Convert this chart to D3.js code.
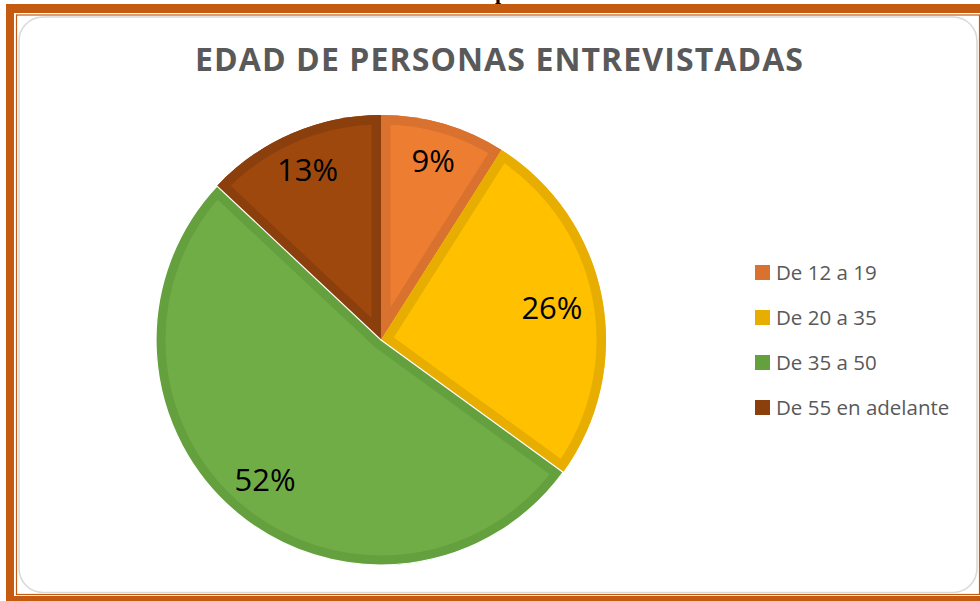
<!DOCTYPE html>
<html>
<head>
<meta charset="utf-8">
<script src="https://cdn.jsdelivr.net/npm/d3@7"></script>
<style>
  html, body { margin: 0; padding: 0; background: #fff; }
  svg { display: block; }
</style>
</head>
<body>
<svg id="chart" width="980" height="601"></svg>
<script>
// ---- data ----
const title = "EDAD DE PERSONAS ENTREVISTADAS";
const categories = ["De 12 a 19", "De 20 a 35", "De 35 a 50", "De 55 en adelante"];
const values = [9, 26, 52, 13];
const labels = ["9%", "26%", "52%", "13%"];
const fillColors = ["#ED7D31", "#FFC000", "#70AD47", "#9E480E"];
const edgeColors = ["#D9712F", "#E7AD00", "#65A03F", "#8B3F0D"];

// ---- layout constants (best-fit label distance from centre) ----
const labelRadii = [187, 174, 182, 185];

const svg = d3.select("#chart");
const W = 980, H = 601;

// ---- page frame ----
svg.append("rect").attr("x", 0).attr("y", 0).attr("width", W).attr("height", H).attr("fill", "#fff");
// fragment of the text above the frame (descender)
svg.append("text").attr("x", 501).attr("y", -1)
  .attr("text-anchor", "middle")
  .style("font-family", "'Liberation Serif', serif").style("font-weight", "bold").style("font-size", "22px")
  .attr("fill", "#000").text("p");
// thick orange border
svg.append("path")
  .attr("d", "M6,4H996V612H6Z M14,13V596H981V13Z")
  .attr("fill", "#C55A11").attr("fill-rule", "evenodd");
// thin orange line
svg.append("rect").attr("x", 16.5).attr("y", 15).attr("width", 963).attr("height", 579.5)
  .attr("fill", "none").attr("stroke", "#C55A11").attr("stroke-width", 1.2);
// chart card
svg.append("rect").attr("x", 19).attr("y", 17).attr("width", 958).attr("height", 575.5)
  .attr("rx", 24).attr("ry", 24)
  .attr("fill", "#fff").attr("stroke", "#D9D9D9").attr("stroke-width", 1.6);

// ---- title ----
const t = svg.append("text")
  .attr("x", 499).attr("y", 71)
  .attr("text-anchor", "middle")
  .attr("fill", "#595959")
  .style("font-family", "'Open Sans', sans-serif")
  .style("font-weight", "bold")
  .style("font-size", "32px")
  .text(title);
{
  const target = 608;
  const len = t.node().getComputedTextLength();
  const ls = (target - len) / (title.length - 1);
  t.style("letter-spacing", ls + "px").attr("x", 499 + ls / 2);
}

// ---- pie ----
const cx = 381, cy = 340, R = 225;
const pie = d3.pie().sort(null).value(d => d)(values);
const arc = d3.arc().innerRadius(0).outerRadius(R);

const g = svg.append("g").attr("transform", `translate(${cx},${cy})`);
const defs = svg.append("defs");
pie.forEach((p, i) => {
  defs.append("clipPath").attr("id", "clip" + i).append("path").attr("d", arc(p));
});

const slices = g.selectAll("g.slice").data(pie).enter().append("g").attr("class", "slice");
slices.append("path")
  .attr("d", d => arc(d))
  .attr("fill", (d, i) => fillColors[i]);
slices.append("path")
  .attr("d", d => arc(d))
  .attr("fill", "none")
  .attr("stroke", (d, i) => edgeColors[i])
  .attr("stroke-width", 19)
  .attr("stroke-linejoin", "miter")
  .attr("clip-path", (d, i) => `url(#clip${i})`);
g.append("path")
  .attr("d", arc(pie[2]))
  .attr("fill", "none").attr("stroke", "#fff").attr("stroke-width", 1.2);

// labels
g.selectAll("text.lbl").data(pie).enter().append("text")
  .attr("class", "lbl")
  .attr("transform", (d, i) => {
    const la = d3.arc().innerRadius(labelRadii[i]).outerRadius(labelRadii[i]);
    return `translate(${la.centroid(d)})`;
  })
  .attr("text-anchor", "middle")
  .attr("dy", "0.36em")
  .attr("fill", "#000")
  .style("font-family", "'Open Sans', sans-serif")
  .style("font-size", "31px")
  .text((d, i) => labels[i]);

// ---- legend ----
const legendY = d3.scalePoint().domain(categories).range([272.5, 407.5]);
const lg = svg.append("g");
const items = lg.selectAll("g").data(categories).enter().append("g")
  .attr("transform", d => `translate(755,${legendY(d)})`);
items.append("rect").attr("x", 0).attr("y", -7.5).attr("width", 15).attr("height", 15)
  .attr("fill", (d, i) => edgeColors[i]);
items.append("text").attr("x", 21).attr("y", 0).attr("dy", "0.35em")
  .attr("fill", "#595959")
  .style("font-family", "'Open Sans', sans-serif")
  .style("font-size", "20.5px")
  .text(d => d);
</script>
</body>
</html>
